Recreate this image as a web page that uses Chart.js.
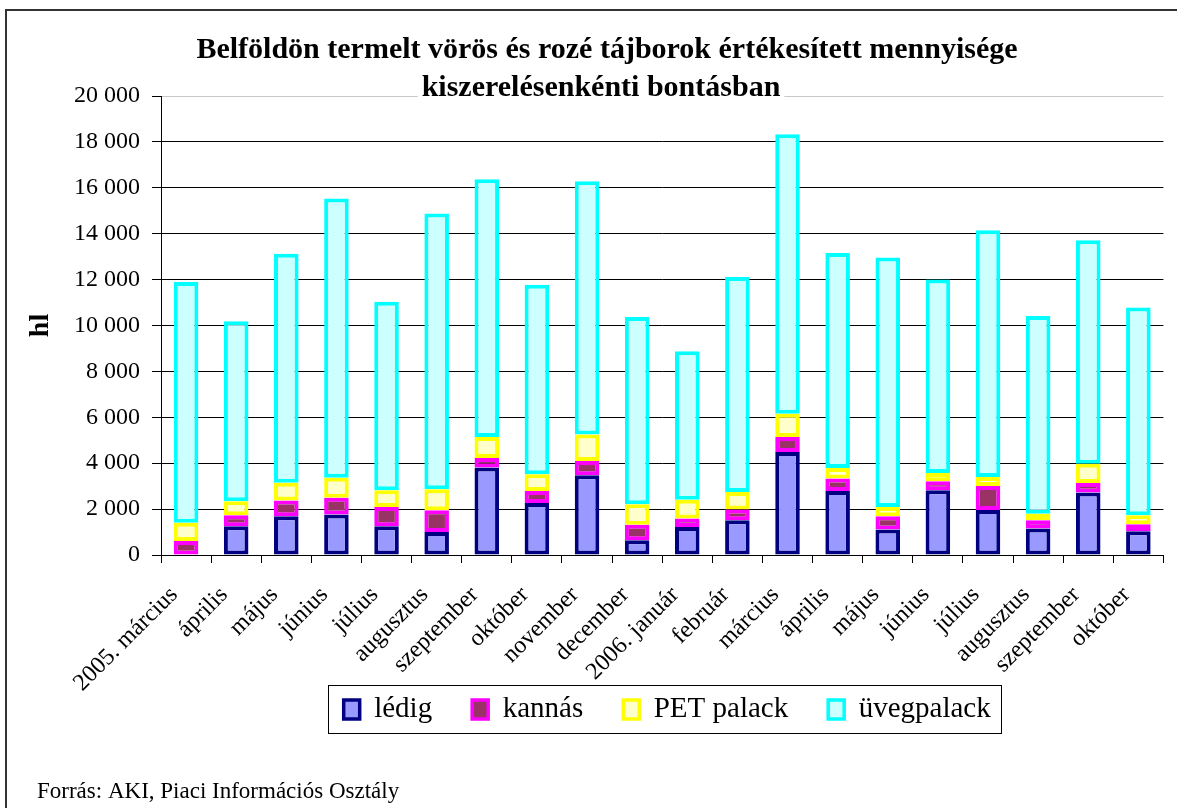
<!DOCTYPE html>
<html>
<head>
<meta charset="utf-8">
<script src="https://cdn.jsdelivr.net/npm/chart.js@4.4.0/dist/chart.umd.min.js"></script>
<style>
  html, body { margin: 0; padding: 0; background: #fff; }
  #wrap { width: 1177px; height: 808px; position: relative; }
</style>
</head>
<body>
<div id="wrap"><canvas id="chart" width="1177" height="808"></canvas></div>
<script>
var months = ['2005. március', 'április', 'május', 'június', 'július', 'augusztus', 'szeptember',
	'október', 'november', 'december', '2006. január', 'február', 'március', 'április',
	'május', 'június', 'július', 'augusztus', 'szeptember', 'október'];

// hl
var ledig = [0, 1250, 1690, 1760, 1250, 1000, 3810, 2270, 3470, 640, 1220, 1510, 4490, 2790, 1110, 2820, 1960, 1150, 2720, 1030];
var kannas = [610, 480, 690, 740, 840, 950, 420, 520, 630, 680, 370, 470, 650, 540, 580, 390, 1050, 360, 420, 310];
var pet = [800, 610, 770, 870, 730, 910, 910, 730, 1150, 890, 820, 770, 1020, 460, 400, 360, 390, 290, 840, 390];
var uveg = [10490, 7840, 9980, 12160, 8210, 12020, 11230, 8260, 11030, 8160, 6470, 9360, 12170, 9370, 10870, 8430, 10750, 8610, 9730, 9050];

var yTicks = [0, 2000, 4000, 6000, 8000, 10000, 12000, 14000, 16000, 18000, 20000];

var titleLines = ['Belföldön termelt vörös és rozé tájborok értékesített mennyisége', 'kiszerelésenkénti bontásban'];
var sourceText = 'Forrás: AKI, Piaci Információs Osztály';

var serif = "'Liberation Serif', 'Times New Roman', serif";

function fmt(v) {
	return String(v).replace(/\B(?=(\d{3})+(?!\d))/g, ' ');
}

// frame, title, footer, legend box
var decor = {
	id: 'decor',
	afterLayout: function(chart) {
		// pull the legend up, its row sits just under the rotated labels
		var lg = chart.legend;
		var h = lg.height;
		lg.top = 655;
		lg.bottom = lg.top + h;
		lg.left += 5;
		lg.right += 5;
	},
	afterDraw: function(chart) {
		var c = chart.ctx;
		c.save();
		// title (white behind it, the top gridline runs under it)
		c.font = 'bold 30px ' + serif;
		c.textAlign = 'center';
		c.textBaseline = 'middle';
		var w2 = c.measureText(titleLines[1]).width;
		c.fillStyle = '#fff';
		c.fillRect(601 - w2 / 2 - 4, 75, w2 + 8, 28);
		c.fillStyle = '#000';
		c.fillText(titleLines[0], 607, 50);
		c.fillText(titleLines[1], 601, 88);

		// footer
		c.font = '23px ' + serif;
		c.textAlign = 'left';
		c.textBaseline = 'alphabetic';
		c.fillText(sourceText, 37, 798);

		// legend border
		var hb = chart.legend.legendHitBoxes;
		if (hb && hb.length) {
			var l = hb[0].left, r = hb[hb.length - 1].left + hb[hb.length - 1].width;
			var t = hb[0].top;
			c.strokeStyle = '#000';
			c.lineWidth = 1;
			c.strokeRect(Math.round(l - 16) + 0.5, Math.round(t - 10) + 0.5, Math.round(r - l + 26), 48);
		}

		// outer frame
		c.strokeStyle = '#333';
		c.lineWidth = 2;
		c.strokeRect(6, 10, 1200, 900);
		c.restore();
	}
};

function ds(label, data, border, fill) {
	return {
		label: label,
		data: data,
		backgroundColor: fill,
		borderColor: border,
		borderWidth: 4,
		borderSkipped: false,
		categoryPercentage: 1,
		barPercentage: 0.49
	};
}

var ctx = document.getElementById('chart');

new Chart(ctx, {
	type: 'bar',
	data: {
		labels: months,
		datasets: [
			ds('lédig', ledig, '#000080', '#9999FF'),
			ds('kannás', kannas, '#FF00FF', '#993366'),
			ds('PET palack', pet, '#FFFF00', '#FFFFCC'),
			ds('üvegpalack', uveg, '#00FFFF', '#CCFFFF')
		]
	},
	options: {
		responsive: false,
		animation: false,
		events: [],
		layout: {
			padding: { left: 8, right: 11, top: 96, bottom: 34 }
		},
		scales: {
			x: {
				stacked: true,
				grid: { drawOnChartArea: false, tickLength: 8, color: '#000', offset: true },
				border: { color: '#000', width: 1 },
				ticks: {
					autoSkip: false,
					maxRotation: 45,
					minRotation: 45,
					color: '#000',
					padding: 18,
					labelOffset: -12,
					font: { family: serif, size: 24 }
				},
				afterFit: function(s) { s.height = 140; }
			},
			y: {
				stacked: true,
				min: 0,
				max: 20000,
				afterBuildTicks: function(s) {
					s.ticks = yTicks.map(function(v) { return { value: v }; });
				},
				grid: {
					color: function(c) { return c.tick && c.tick.value === 20000 ? '#c8c8c8' : '#000'; },
					tickColor: '#000',
					tickLength: 9
				},
				border: { color: '#000', width: 1 },
				ticks: {
					color: '#000',
					padding: 12,
					font: { family: serif, size: 24 },
					callback: function(v) { return fmt(v); }
				},
				title: {
					display: true,
					text: 'hl',
					color: '#000',
					padding: { top: 16, bottom: 0 },
					font: { family: serif, size: 28, weight: 'bold' }
				},
				afterFit: function(s) { s.width = 153; }
			}
		},
		plugins: {
			legend: {
				position: 'bottom',
				fullSize: false,
				labels: {
					color: '#000',
					boxWidth: 16,
					boxHeight: 19,
					padding: 40,
					font: { family: serif, size: 29 },
					generateLabels: function(chart) {
						return chart.data.datasets.map(function(d, i) {
							return {
								text: d.label,
								fillStyle: d.backgroundColor,
								strokeStyle: d.borderColor,
								lineWidth: 3.5,
								datasetIndex: i
							};
						});
					}
				}
			},
			title: { display: false },
			tooltip: { enabled: false }
		}
	},
	plugins: [decor]
});
</script>
</body>
</html>
